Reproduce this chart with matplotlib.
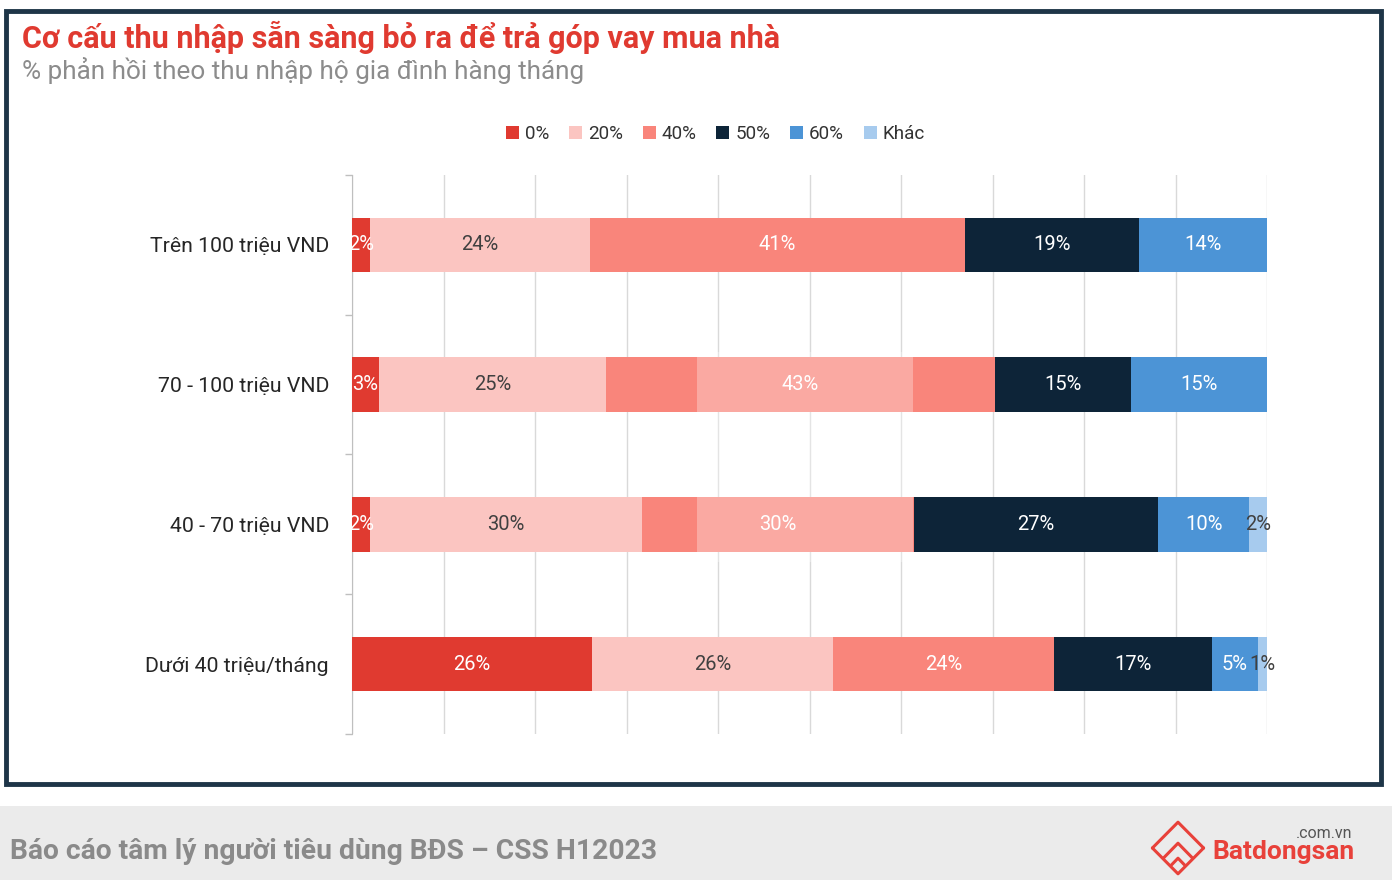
import numpy as np
import matplotlib
matplotlib.use("Agg")
import matplotlib.pyplot as plt
from matplotlib.patches import Rectangle

plt.rcParams['font.family'] = ['Roboto', 'DejaVu Sans']

# du lieu
categories = ['Trên 100 triệu VND', '70 - 100 triệu VND', '40 - 70 triệu VND', 'Dưới 40 triệu/tháng']
series = ['0%', '20%', '40%', '50%', '60%', 'Khác']
v_0 = [2, 3, 2, 26]
v_20 = [24, 25, 30, 26]
v_40 = [41, 43, 30, 24]
v_50 = [19, 15, 27, 17]
v_60 = [14, 15, 10, 5]
v_khac = [0, 0, 2, 1]

colors = ['#E03A30', '#FBC5C1', '#F9857B', '#0D2438', '#4C94D6', '#A7CBEE']
label_colors = ['white', '#404040', 'white', 'white', 'white', '#404040']

W, H = 1392, 880
fig = plt.figure(figsize=(W / 100, H / 100), dpi=100)
fig.patch.set_facecolor('white')

# khung ngoai
fig.patches.append(Rectangle((6 / W, 1 - 784 / H), 1375 / W, 773 / H, transform=fig.transFigure,
                             fill=False, edgecolor='#1E3548', lw=3.5, zorder=-1))
# footer
fig.patches.append(Rectangle((0, 0), 1, 74 / H, transform=fig.transFigure,
                             facecolor='#EBEBEB', edgecolor='none', zorder=-1))

fig.text(22 / W, 1 - 37 / H, 'Cơ cấu thu nhập sẵn sàng bỏ ra để trả góp vay mua nhà',
         color='#E03A30', fontsize=22, fontweight='bold', va='center', ha='left')
fig.text(22 / W, 1 - 71 / H, '% phản hồi theo thu nhập hộ gia đình hàng tháng',
         color='#8C8C8C', fontsize=18.8, va='center', ha='left')

# bieu do
ax = fig.add_axes([352 / W, 1 - 734 / H, (1267 - 352) / W, (734 - 175) / H])
data = np.array([v_0, v_20, v_40, v_50, v_60, v_khac], dtype=float)
totals = data.sum(axis=0)
shares = data / totals * 100
y = np.arange(len(categories))
left = np.zeros(len(categories))
for i, name in enumerate(series):
    ax.barh(y, shares[i], left=left, height=0.39, color=colors[i], label=name, zorder=3)
    for j in range(len(categories)):
        if data[i, j] > 0:
            ax.text(left[j] + shares[i, j] / 2, y[j], f'{int(data[i, j])}%',
                    ha='center', va='center', color=label_colors[i], fontsize=14.5, zorder=4)
    left += shares[i]

ax.set_xlim(0, 100)
ax.set_ylim(len(categories) - 0.5, -0.5)
ax.set_xticks(np.arange(0, 101, 10))
ax.tick_params(axis='x', length=0, labelbottom=False)
ax.grid(axis='x', color='#D9D9D9', lw=1, zorder=0)
ax.set_yticks(y)
ax.set_yticklabels(categories, fontsize=15.3, color='#262626')
ax.tick_params(axis='y', which='major', length=0, pad=16.5)
ax.set_yticks(np.arange(-0.5, len(categories), 1), minor=True)
ax.tick_params(axis='y', which='minor', length=5, color='#BFBFBF', width=1)
for s in ['top', 'right', 'bottom']:
    ax.spines[s].set_visible(False)
ax.spines['left'].set_color('#BFBFBF')

ax.legend(loc='center', bbox_to_anchor=(0.397, 1.0 + 41 / 559), ncol=6, frameon=False,
          fontsize=13.6, handlelength=0.7, handleheight=0.7, handletextpad=0.3,
          columnspacing=1.05, labelcolor='#333333')

# lop watermark mo
fig.patches.append(Rectangle((697 / W, 1 - 562 / H), 216 / W, 210 / H, transform=fig.transFigure,
                             facecolor='white', edgecolor='none', alpha=0.3, zorder=10))

# footer text
fig.text(10 / W, 1 - 851 / H, 'Báo cáo tâm lý người tiêu dùng BĐS – CSS H12023',
         color='#8A8A8A', fontsize=20.3, fontweight='bold', va='center', ha='left')

# logo
lax = fig.add_axes([1146 / W, 2 / H, 64 / W, 60 / H], zorder=5)
lax.set_xlim(0, 10)
lax.set_ylim(0, 10)
lax.axis('off')
red = '#E8413A'
lax.plot([1, 5, 9], [5, 9.3, 5], color=red, lw=2.2, solid_capstyle='round')
lax.plot([2.8, 5, 7.2], [3.4, 5.8, 3.4], color=red, lw=2.2, solid_capstyle='round')
lax.plot([1, 5, 9], [5, 0.7, 5], color=red, lw=2.2, solid_capstyle='round')
lax.plot([4, 5, 6], [2.2, 3.3, 2.2], color=red, lw=2.2, solid_capstyle='round')
fig.text(1212 / W, 1 - 852 / H, 'Batdongsan', color=red, fontsize=19, fontweight='bold',
         va='center', ha='left')
fig.text(1352 / W, 1 - 833 / H, '.com.vn', color='#555555', fontsize=11.5,
         va='center', ha='right')

fig.savefig('out.png', dpi=100)
